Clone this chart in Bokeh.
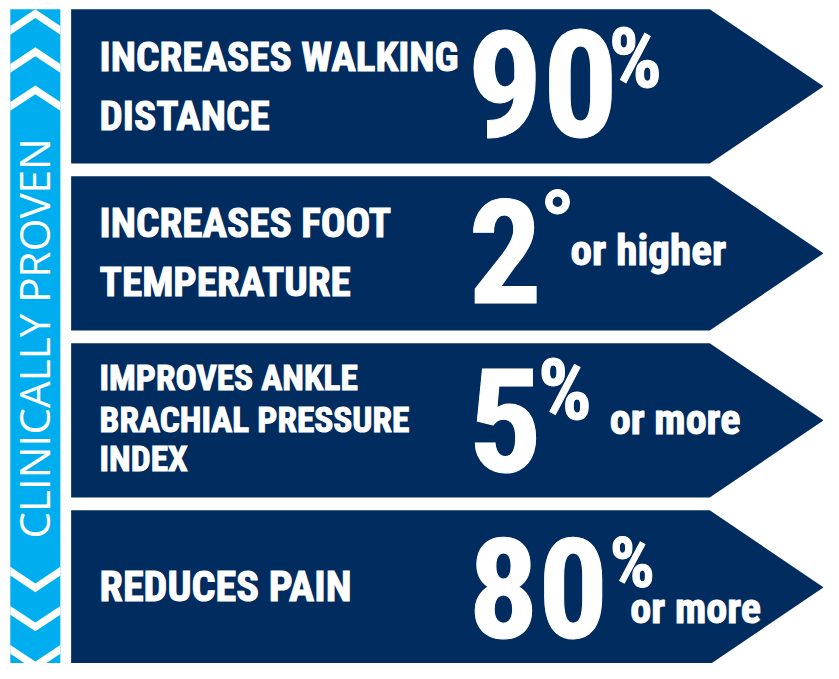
from bokeh.plotting import figure
from bokeh.models import Range1d, ColumnDataSource
from bokeh.core.properties import value
from bokeh.embed import file_html
from bokeh.resources import INLINE
import math

# ---------------- data ----------------
side_label = "CLINICALLY PROVEN"
claims = [
    ["INCREASES WALKING", "DISTANCE"],
    ["INCREASES FOOT", "TEMPERATURE"],
    ["IMPROVES ANKLE", "BRACHIAL PRESSURE", "INDEX"],
    ["REDUCES PAIN"],
]
figures_txt = ["90", "2", "5", "80"]
units = ["%", "°", "%", "%"]
qualifiers = ["", "or higher", "or more", "or more"]

# ---------------- layout (pixel coordinates of the 839x679 picture) ----------------
NAVY = "#012c5f"
SKY = "#00aeef"
BOLD_FONT = "Roboto Condensed, DejaVu Sans Condensed, Roboto"
W, H = 823, 663
FS = W / 839.0  # font scale
K = 0.36        # baseline correction (fraction of font size)

arrow_tops = [9, 180, 351, 522]
arrow_h = 158
arrow_left, arrow_body, arrow_tip = 72, 723, 839

claim_baselines = [[73, 133], [243, 303], [400, 443, 483], [616]]
claim_sizes = [42, 42, 36, 43]
claim_x = 101

fig_x = [476, 477, 477, 477]
fig_base = [140, 310, 483, 652]
fig_size = [152, 148, 148, 141]

unit_x = [620, 550, 548, 621]
unit_base = [90, 262, 430, 602]
unit_size = [85, 92, 86, 72]

qual_x = [0, 581, 621, 642]
qual_base = [0, 272, 445, 638]
qual_size = [44, 44, 43, 43]

side_size = 43
strip_l, strip_r, strip_top, strip_bot = 10, 61, 9, 690
up_chevrons = [9, 48, 87]
down_chevrons = [597, 637, 677]
chev_e, chev_t = 17, 9


def px(s):
    return f"{s * FS:.1f}px"


def by(base, size):
    return base - K * size


p = figure(width=W, height=H, x_range=Range1d(0, 839), y_range=Range1d(679, 0),
           output_backend="svg", toolbar_location=None, x_axis_type=None, y_axis_type=None,
           min_border=0, outline_line_color=None, background_fill_color="white",
           border_fill_color="white")
p.grid.visible = False

# arrows
xs, ys = [], []
for t in arrow_tops:
    xs.append([arrow_left, arrow_body, arrow_tip, arrow_body, arrow_left])
    ys.append([t, t, t + arrow_h / 2, t + arrow_h, t + arrow_h])
p.patches(xs, ys, fill_color=NAVY, line_color=None)

# side strip
p.quad(left=[strip_l], right=[strip_r], top=[strip_top], bottom=[strip_bot],
       fill_color=SKY, line_color=None)

mid = (strip_l + strip_r) / 2
cx, cy = [], []
for a in up_chevrons:
    cx.append([strip_l, mid, strip_r, strip_r, mid, strip_l])
    cy.append([a + chev_e, a, a + chev_e, a + chev_e + chev_t, a + chev_t, a + chev_e + chev_t])
for b in down_chevrons:
    cx.append([strip_l, mid, strip_r, strip_r, mid, strip_l])
    cy.append([b - chev_e, b, b - chev_e, b - chev_e + chev_t, b + chev_t, b - chev_e + chev_t])
p.patches(cx, cy, fill_color="white", line_color=None)

p.text(x=[49.5 - K * side_size], y=[346], text=[side_label], angle=math.pi / 2,
       text_align="center", text_baseline="alphabetic", text_color="white",
       text_font=value("Open Sans"), text_font_size=px(side_size))

bold = dict(text_color="white", text_outline_color="white",
            text_font=value(BOLD_FONT), text_font_style="bold",
            text_baseline="alphabetic", text_align="left")

# claims
for lines, bases, size in zip(claims, claim_baselines, claim_sizes):
    src = ColumnDataSource(dict(x=[claim_x] * len(lines), y=[by(b, size) for b in bases], t=lines))
    p.text(x="x", y="y", text="t", source=src, text_font_size=px(size), **bold)

for i in range(4):
    p.text(x=[fig_x[i]], y=[by(fig_base[i], fig_size[i])], text=[figures_txt[i]],
           text_font_size=px(fig_size[i]), **bold)
    p.text(x=[unit_x[i]], y=[by(unit_base[i], unit_size[i])], text=[units[i]],
           text_font_size=px(unit_size[i]), **bold)
    if qualifiers[i]:
        p.text(x=[qual_x[i]], y=[by(qual_base[i], qual_size[i])], text=[qualifiers[i]],
               text_font_size=px(qual_size[i]), **bold)

open("out.html", "w").write(file_html(p, INLINE))
